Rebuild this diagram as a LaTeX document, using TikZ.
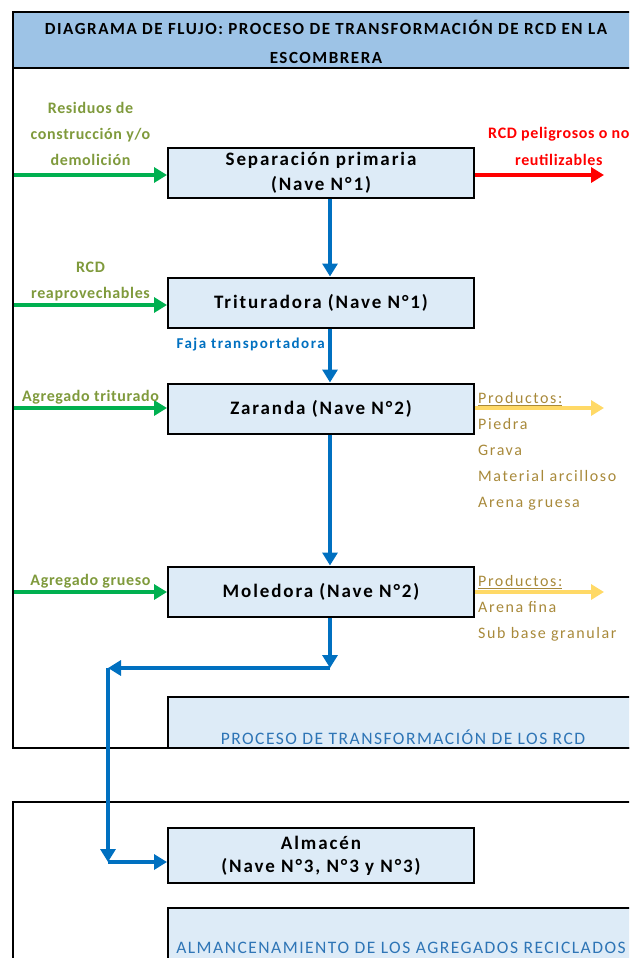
\documentclass[tikz,border=0pt]{standalone}
\usepackage{fontspec}
\setmainfont{Carlito}
\usetikzlibrary{arrows.meta}

\definecolor{bandblue}{HTML}{9DC3E6}
\definecolor{boxblue}{HTML}{DDEBF7}
\definecolor{flowblue}{HTML}{0070C0}
\definecolor{secblue}{HTML}{2E75B6}
\definecolor{ingreen}{HTML}{00B050}
\definecolor{labgreen}{HTML}{7F9A3C}
\definecolor{outred}{HTML}{FF0000}
\definecolor{prodgold}{HTML}{FFD966}
\definecolor{prodtext}{HTML}{A8893A}

\begin{document}
\begin{tikzpicture}[x=1pt,y=-1pt]
\tikzstyle{box} = [draw=black, line width=2pt, fill=boxblue, minimum width=306pt, minimum height=50pt, align=center, inner sep=0pt, font=\addfontfeatures{LetterSpace=10}\fontsize{19}{25}\selectfont\bfseries]
\tikzstyle{frame} = [draw=black, line width=1.8pt]
\tikzstyle{flow} = [draw=flowblue, line width=4pt, -{Triangle[length=13pt,width=15pt]}]
\tikzstyle{input} = [draw=ingreen, line width=4pt, -{Triangle[length=13pt,width=15pt]}]
\tikzstyle{reject} = [draw=outred, line width=4pt, -{Triangle[length=13pt,width=15pt]}]
\tikzstyle{product} = [draw=prodgold, line width=4pt, -{Triangle[length=13pt,width=15pt]}]
\tikzstyle{inlabel} = [text=labgreen, align=center, inner sep=2pt, font=\addfontfeatures{LetterSpace=4}\fontsize{16}{26}\selectfont\bfseries]
\tikzstyle{outlabel} = [text=outred, align=center, inner sep=2pt, font=\addfontfeatures{LetterSpace=4}\fontsize{16}{27}\selectfont\bfseries]
\tikzstyle{prodlist} = [text=prodtext, align=left, anchor=north west, inner sep=0pt, font=\addfontfeatures{LetterSpace=10}\fontsize{16}{26}\selectfont]
\tikzstyle{section} = [text=secblue, font=\addfontfeatures{LetterSpace=8.5}\fontsize{17.5}{20}\selectfont]

\clip (0,0) rectangle (629,958);

% marcos
\fill[bandblue] (13,12) rectangle (640,68);
\draw[frame, fill=boxblue] (168,697) rectangle (640,748);
\draw[frame] (13,12) rectangle (640,748);
\draw[frame] (13,68) -- (640,68);
\draw[frame] (640,802) -- (13,802) -- (13,970);
\draw[frame, fill=boxblue] (168,908) rectangle (640,970);

\node[align=center, font=\addfontfeatures{LetterSpace=9}\fontsize{17}{29}\selectfont\bfseries] (title) at (326,42) {DIAGRAMA DE FLUJO: PROCESO DE TRANSFORMACIÓN DE RCD EN LA\\ESCOMBRERA};
\node[section] (proc) at (403,737) {PROCESO DE TRANSFORMACIÓN DE LOS RCD};
\node[section] (alma) at (401,948) {ALMANCENAMIENTO DE LOS AGREGADOS RECICLADOS};

% procesos
\node[box] (sep) at (321,172.5) {Separación primaria\\(Nave N°1)};
\node[box] (tri) at (321,302.5) {Trituradora (Nave N°1)};
\node[box] (zar) at (321,408.5) {Zaranda (Nave N°2)};
\node[box] (mol) at (321,591.5) {Moledora (Nave N°2)};
\node[box, minimum height=55pt, font=\addfontfeatures{LetterSpace=10}\fontsize{19}{23}\selectfont\bfseries] (alm) at (321,855.5) {Almacén\\(Nave N°3, N°3 y N°3)};

\coordinate (srcA) at (14,175);
\coordinate (srcB) at (14,305);
\coordinate (srcC) at (14,408);
\coordinate (srcD) at (14,592);
\coordinate (rejA) at (604,175);
\coordinate (outZ) at (604,408);
\coordinate (outM) at (604,592);
\coordinate (bendA) at (330,668);
\coordinate (bendB) at (108,668);
\coordinate (bendC) at (108,862);

% entradas
\path (srcA) edge[input] node[inlabel, above=5pt] {Residuos de\\construcción y/o\\demolición} (srcA -| sep.west);
\path (srcB) edge[input] node[inlabel, above] {RCD\\reaprovechables} (srcB -| tri.west);
\path (srcC) edge[input] node[inlabel, above] {Agregado triturado} (srcC -| zar.west);
\path (srcD) edge[input] node[inlabel, above] {Agregado grueso} (srcD -| mol.west);

% salidas
\path (srcA -| sep.east) edge[reject] node[outlabel, above=5pt, pos=0.65] {RCD peligrosos o no\\reutilizables} (rejA);
\path (srcC -| zar.east) edge[product] (outZ);
\path (srcD -| mol.east) edge[product] (outM);
\node[prodlist] (prodZ) at (478,392) {\underline{Productos:}\\Piedra\\Grava\\Material arcilloso\\Arena gruesa};
\node[prodlist] (prodM) at (478,575) {\underline{Productos:}\\Arena fina\\Sub base granular};

% flujo
\path ([xshift=9pt]sep.south) edge[flow] ([xshift=9pt]tri.north);
\path ([xshift=9pt]tri.south) edge[flow] node[left, pos=0.3, text=flowblue, font=\addfontfeatures{LetterSpace=10}\fontsize{15}{17}\selectfont\bfseries] {Faja transportadora} ([xshift=9pt]zar.north);
\path ([xshift=9pt]zar.south) edge[flow] ([xshift=9pt]mol.north);
\path ([xshift=9pt]mol.south) edge[flow] (bendA);
\path (bendA) edge[flow] (bendB);
\path (bendB) edge[flow] (bendC);
\path (bendC) edge[flow] (bendC -| alm.west);
\end{tikzpicture}
\end{document}
